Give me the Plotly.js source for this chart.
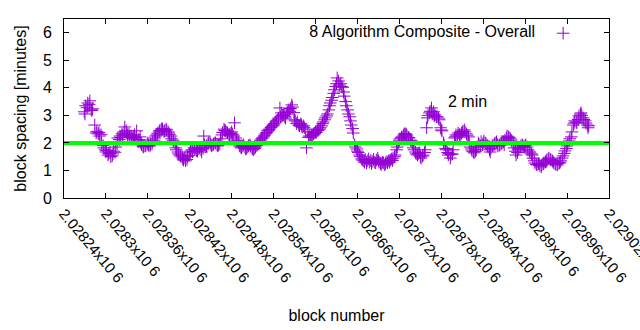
<!DOCTYPE html>
<html>
<head>
<meta charset="utf-8">
<script src="https://cdn.plot.ly/plotly-3.0.1.min.js"></script>
<style>html,body{margin:0;padding:0;background:#fff;}#chart{width:640px;height:330px;}</style>
</head>
<body>
<div id="chart"></div>
<script>
const seriesName = "8 Algorithm Composite - Overall";

const blockNumber = [
2028269,
2028270,2028271,2028273,2028274,2028276,2028277,2028279,
2028280,2028281,2028284,2028286,2028287,2028289,
2028290,2028291,2028293,2028294,2028296,2028297,2028299,
2028300,2028301,2028303,2028304,2028306,2028307,2028309,
2028310,2028311,2028313,2028314,2028316,2028317,2028319,
2028320,2028321,2028323,2028324,2028326,2028327,2028329,
2028330,2028331,2028333,2028334,2028336,2028337,2028339,
2028340,2028341,2028343,2028344,2028346,2028347,2028349,
2028350,2028351,2028353,2028354,2028356,2028357,2028359,
2028360,2028361,2028363,2028364,2028366,2028367,2028369,
2028370,2028371,2028373,2028374,2028376,2028377,2028379,
2028380,2028381,2028383,2028384,2028386,2028387,2028389,
2028390,2028391,2028393,2028394,2028396,2028397,2028399,
2028400,2028401,2028403,2028404,2028406,2028407,2028409,
2028410,2028411,2028413,2028414,2028416,2028417,2028419,
2028420,2028421,2028423,2028424,2028426,2028427,2028429,
2028430,2028431,2028433,2028434,2028436,2028437,2028439,
2028440,2028441,2028443,2028444,2028446,2028447,2028449,
2028450,2028451,2028453,2028454,2028456,2028457,2028459,
2028460,2028461,2028463,2028464,2028466,2028467,2028469,
2028470,2028471,2028473,2028474,2028476,2028477,2028479,
2028480,2028481,2028483,2028484,2028486,2028487,2028489,
2028490,2028491,2028493,2028494,2028496,2028497,2028499,
2028500,2028501,2028503,2028504,2028506,2028507,2028509,
2028510,2028511,2028513,2028514,2028516,2028517,2028519,
2028520,2028521,2028523,2028524,2028526,2028527,2028529,
2028530,2028531,2028533,2028534,2028536,2028537,2028539,
2028540,2028541,2028543,2028544,2028546,2028547,2028549,
2028550,2028551,2028553,2028554,2028556,2028557,2028559,
2028560,2028561,2028563,2028564,2028566,2028567,2028569,
2028570,2028571,2028573,2028574,2028576,2028577,2028579,
2028580,2028581,2028583,2028584,2028586,2028587,2028589,
2028590,2028591,2028593,2028594,2028596,2028597,2028599,
2028600,2028601,2028603,2028604,2028606,2028607,2028609,
2028610,2028611,2028613,2028614,2028616,2028617,2028619,
2028620,2028621,2028623,2028624,2028626,2028627,2028629,
2028630,2028631,2028633,2028634,2028636,2028637,2028639,
2028640,2028641,2028643,2028644,2028646,2028647,2028649,
2028650,2028651,2028653,2028654,2028656,2028657,2028659,
2028660,2028661,2028663,2028664,2028666,2028667,2028669,
2028670,2028671,2028673,2028674,2028676,2028677,2028679,
2028680,2028681,2028683,2028684,2028686,2028687,2028689,
2028690,2028691,2028693,2028694,2028696,2028697,2028699,
2028700,2028701,2028703,2028704,2028706,2028707,2028709,
2028710,2028711,2028713,2028714,2028716,2028717,2028719,
2028720,2028721,2028723,2028724,2028726,2028727,2028729,
2028730,2028731,2028733,2028734,2028736,2028737,2028739,
2028740,2028741,2028743,2028744,2028746,2028747,2028749,
2028750,2028751,2028753,2028754,2028756,2028757,2028759,
2028760,2028761,2028763,2028764,2028766,2028767,2028769,
2028770,2028771,2028773,2028774,2028776,2028777,2028779,
2028780,2028781,2028783,2028784,2028786,2028787,2028789,
2028790,2028791,2028793,2028794,2028796,2028797,2028799,
2028800,2028801,2028803,2028804,2028806,2028807,2028809,
2028810,2028811,2028813,2028814,2028816,2028817,2028819,
2028820,2028821,2028823,2028824,2028826,2028827,2028829,
2028830,2028831,2028833,2028834,2028836,2028837,2028839,
2028840,2028841,2028843,2028844,2028846,2028847,2028849,
2028850,2028851,2028853,2028854,2028856,2028857,2028859,
2028860,2028861,2028863,2028864,2028866,2028867,2028869,
2028870,2028871,2028873,2028874,2028876,2028877,2028879,
2028880,2028881,2028883,2028884,2028886,2028887,2028889,
2028890,2028891,2028893,2028894,2028896,2028897,2028899,
2028900,2028901,2028903,2028904,2028906,2028907,2028909,
2028910,2028911,2028913,2028914,2028916,2028917,2028919,
2028920,2028921,2028923,2028924,2028926,2028927,2028929,
2028930,2028931,2028933,2028934,2028936,2028937,2028939,
2028940,2028941,2028943,2028944,2028946,2028947,2028949,
2028950,2028951,2028953,2028954,2028956,2028957,2028959,
2028960,2028961,2028963,2028964,2028966,2028967,2028969,
2028970,2028971,2028973,2028974,2028976,2028977,2028979,
2028980,2028981,2028983,2028984,2028986,2028987,2028989,
2028990,2028991
];

const spacingMinutes = [
3.13,
3.05,3.35,3.28,3.45,3.40,3.53,3.20,
3.18,3.24,2.65,2.36,2.42,2.33,
2.38,2.25,2.30,2.00,1.90,1.82,1.75,
1.67,1.72,1.56,1.62,1.64,1.50,1.53,
1.60,1.70,1.66,1.85,1.95,2.18,2.12,
2.25,2.20,2.33,2.28,2.40,2.58,2.44,
2.36,2.29,2.32,2.22,2.26,2.15,2.20,
2.25,2.30,2.18,2.44,2.07,2.12,2.22,
2.00,1.93,1.88,1.85,1.90,1.89,1.95,
2.00,1.92,1.89,1.95,1.96,2.05,2.10,
2.18,2.25,2.29,2.35,2.40,2.45,2.47,
2.52,2.50,2.42,2.44,2.50,2.47,2.40,
2.36,2.30,2.25,2.15,2.10,2.05,2.00,
1.82,1.75,1.67,1.60,1.56,1.52,1.49,
1.42,1.38,1.45,1.35,1.40,1.50,1.55,
1.64,1.70,1.75,1.68,1.82,1.78,1.75,
1.70,1.71,1.78,1.82,1.75,1.67,1.80,
2.25,1.93,1.85,1.90,1.96,2.00,2.04,
1.95,1.89,1.92,1.96,2.00,2.00,1.93,
1.89,1.92,1.96,2.15,2.29,2.38,2.50,
2.45,2.44,2.40,2.36,2.30,2.29,2.35,
2.40,2.32,2.25,2.73,2.18,2.10,2.07,
2.00,1.89,1.85,1.82,1.88,1.93,1.85,
1.78,1.80,1.85,1.90,1.93,1.88,1.82,
1.78,1.75,1.80,1.85,1.90,1.96,2.00,
2.04,2.10,2.15,2.18,2.22,2.28,2.33,
2.38,2.44,2.47,2.50,2.55,2.58,2.62,
2.65,2.70,2.76,2.80,2.84,2.90,3.27,
2.95,3.09,3.00,3.02,2.95,2.90,3.05,
3.10,3.20,3.15,3.25,3.38,3.30,3.10,
2.84,2.80,2.70,2.76,2.65,2.62,2.70,
2.65,2.58,2.62,2.55,2.50,1.82,2.40,
2.20,2.25,2.22,2.28,2.30,2.33,2.36,
2.40,2.38,2.45,2.47,2.50,2.55,2.62,
2.70,2.76,2.84,2.91,2.98,3.05,3.20,
3.35,3.45,3.55,3.65,3.80,3.93,4.05,
4.15,4.36,4.25,4.10,4.15,4.05,4.02,
3.85,3.70,3.50,3.35,3.20,3.05,2.95,
2.80,2.65,2.52,2.36,1.93,1.85,1.78,
1.70,1.65,1.56,1.50,1.42,1.38,1.35,
1.30,1.40,1.27,1.35,1.42,1.30,1.36,
1.25,1.33,1.40,1.30,1.28,1.38,1.45,
1.35,1.30,1.25,1.22,1.30,1.28,1.20,
1.25,1.32,1.28,1.35,1.30,1.38,1.42,
1.36,1.45,1.50,1.56,1.75,1.85,2.00,
2.10,2.15,2.20,2.22,2.28,2.33,2.33,
2.30,2.25,2.20,2.18,2.10,2.07,1.95,
1.82,1.75,1.67,1.60,1.56,1.62,1.64,
1.50,1.45,1.52,1.56,1.65,1.75,2.55,
2.91,3.00,3.09,3.15,3.27,3.05,3.13,
2.98,3.02,2.95,2.95,2.90,2.84,2.55,
2.47,2.44,2.00,1.93,1.80,1.75,1.65,
1.56,1.62,1.45,1.58,1.60,1.75,2.18,
2.22,2.29,2.25,2.36,2.30,2.29,2.35,
2.40,2.42,2.47,2.40,2.33,2.28,2.22,
2.00,1.85,1.78,1.71,1.68,1.64,1.70,
1.75,1.85,2.00,1.95,1.89,2.05,1.93,
2.00,2.07,2.00,1.96,1.90,1.85,1.75,
1.67,1.80,1.89,1.92,1.96,2.00,2.04,
1.95,1.89,1.92,1.93,1.98,2.00,2.04,
1.93,2.10,2.18,2.25,2.22,2.20,2.15,
2.10,2.04,1.95,1.82,1.70,1.56,1.65,
1.75,1.80,1.85,1.90,1.93,1.88,1.85,
1.90,1.93,1.85,1.75,1.70,1.64,1.60,
1.56,1.45,1.35,1.27,1.22,1.20,1.25,
1.24,1.18,1.13,1.20,1.24,1.28,1.31,
1.35,1.38,1.42,1.45,1.40,1.38,1.35,
1.31,1.28,1.24,1.22,1.20,1.25,1.27,
1.30,1.35,1.45,1.53,1.62,1.71,1.80,
1.89,1.98,2.07,2.15,2.22,2.40,2.65,
2.72,2.80,2.76,2.73,2.85,2.98,3.05,
3.09,3.00,2.91,2.85,2.80,2.72,2.65,
2.55,2.62
];

// target line: 2 minutes across the whole block range
const targetBlocks = [2028240, 2029020];
const targetMinutes = [2, 2];
const targetLabel = "2 min";
const targetLabelBlock = 2028786;
const targetLabelMinutes = 3.5;

const xTickBlocks = [2028240, 2028300, 2028360, 2028420, 2028480, 2028540, 2028600,
                     2028660, 2028720, 2028780, 2028840, 2028900, 2028960, 2029020];
const xTickLabels = ["2.02824x10 6", "2.0283x10 6", "2.02836x10 6", "2.02842x10 6",
                     "2.02848x10 6", "2.02854x10 6", "2.0286x10 6", "2.02866x10 6",
                     "2.02872x10 6", "2.02878x10 6", "2.02884x10 6", "2.0289x10 6",
                     "2.02896x10 6", "2.02902x10 6"];
const yTicks = [0, 1, 2, 3, 4, 5, 6];

const FONT = "Liberation Sans, Arial, sans-serif";

const traces = [
  {
    type: "scatter", mode: "markers",
    x: blockNumber, y: spacingMinutes,
    name: "",
    showlegend: true,
    marker: { symbol: "cross-thin", size: 9, color: "#9400d3", line: { width: 1, color: "#9400d3" } },
    hoverinfo: "x+y"
  },
  {
    type: "scatter", mode: "lines",
    x: targetBlocks, y: targetMinutes,
    showlegend: false,
    line: { color: "#00ff00", width: 4 },
    hoverinfo: "skip"
  }
];

const layout = {
  width: 640, height: 330,
  margin: { l: 64, r: 31, t: 19, b: 132 },
  paper_bgcolor: "#ffffff", plot_bgcolor: "#ffffff",
  font: { family: FONT, size: 16, color: "#000" },
  showlegend: true,
  legend: {
    title: { text: seriesName, side: "left", font: { family: FONT, size: 16, color: "#000" } },
    x: 0.962, xanchor: "right", y: 1.015, yanchor: "top",
    bgcolor: "rgba(0,0,0,0)", borderwidth: 0,
    font: { family: FONT, size: 16, color: "#000" },
    itemwidth: 30
  },
  xaxis: {
    range: [2028240, 2029020],
    tickmode: "array", tickvals: xTickBlocks, ticktext: xTickLabels,
    tickangle: 50,
    ticklabeloverflow: "allow",
    ticks: "inside", ticklen: 5, tickcolor: "#000", tickwidth: 1,
    mirror: "allticks", showline: true, linecolor: "#000", linewidth: 1,
    showgrid: false, zeroline: false,
    tickfont: { family: FONT, size: 15, color: "#000" },
    title: { text: "block number", font: { family: FONT, size: 16, color: "#000" }, standoff: 24 }
  },
  yaxis: {
    range: [0, 6.5],
    tickmode: "array", tickvals: yTicks, ticktext: yTicks.map(String),
    ticks: "inside", ticklen: 5, tickcolor: "#000", tickwidth: 1,
    mirror: "allticks", showline: true, linecolor: "#000", linewidth: 1,
    showgrid: false, zeroline: false,
    ticklabelstandoff: 8,
    tickfont: { family: FONT, size: 16, color: "#000" },
    title: { text: "block spacing [minutes]", font: { family: FONT, size: 16, color: "#000" }, standoff: 12 }
  },
  annotations: [
    { x: targetLabelBlock, y: targetLabelMinutes, xref: "x", yref: "y",
      text: targetLabel, showarrow: false, xanchor: "left", yanchor: "middle",
      font: { family: FONT, size: 16, color: "#000" } }
  ]
};

Plotly.newPlot("chart", traces, layout, { staticPlot: true, displayModeBar: false });
</script>
</body>
</html>
